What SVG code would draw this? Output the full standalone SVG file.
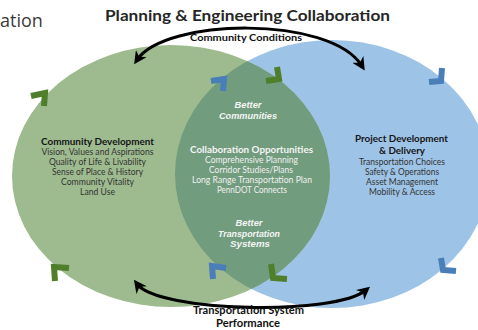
<svg xmlns="http://www.w3.org/2000/svg" width="478" height="330" viewBox="0 0 478 330">
<style>
.cal{font-family:Lato,"Open Sans","Liberation Sans",sans-serif;text-anchor:middle}
.hd{font-weight:bold;fill:#151515;font-size:10px}
.it{fill:#333;font-size:8.6px}
.wh{fill:#f5f5f5}
.bi{font-family:"Liberation Sans",Arial,sans-serif;font-weight:bold;font-style:italic;font-size:9px;fill:#f5f5f5;text-anchor:middle}
.chg{fill:none;stroke:#4f7f2b;stroke-width:6;stroke-linejoin:miter}
.chb{fill:none;stroke:#4a7eb9;stroke-width:6;stroke-linejoin:miter}
.arc{fill:none;stroke:#000;stroke-width:3}
</style>
<defs>
<clipPath id="blueClip"><ellipse cx="332" cy="174" rx="157" ry="134"/></clipPath>
<marker id="ah" viewBox="0 0 10 10" refX="6" refY="5" markerUnits="userSpaceOnUse" markerWidth="13" markerHeight="13" orient="auto-start-reverse">
<path d="M0,0 L10,5 L0,10 L3,5 z" fill="#000"/>
</marker>
</defs>
<rect width="478" height="330" fill="#fff"/>
<text x="0" y="27" font-family="'Open Sans','Liberation Sans',sans-serif" font-size="18" fill="#3a3a3a">ation</text>
<g id="title"><text class="cal" x="247.5" y="21" font-size="15" font-weight="bold" fill="#262626" textLength="285" lengthAdjust="spacingAndGlyphs">Planning &amp; Engineering Collaboration</text></g>
<g id="blue-circle"><ellipse cx="332" cy="174" rx="157" ry="134" fill="#9dc3e6"/></g>
<g id="green-circle"><ellipse cx="171" cy="176" rx="159" ry="131" fill="#9ebb8f"/></g>
<g id="overlap"><ellipse cx="171" cy="176" rx="159" ry="131" fill="#719c7e" clip-path="url(#blueClip)"/></g>
<g id="chevrons">
<polyline class="chg" points="31,96 45,93 44,106"/>
<polyline class="chb" points="211,81 224,79 223,91"/>
<polyline class="chg" points="277,67 279,79 266,81"/>
<polyline class="chb" points="442,68 441,81 429,82"/>
<polyline class="chg" points="69,268 54,267 55,281"/>
<polyline class="chb" points="226,268 212,266 213,279"/>
<polyline class="chg" points="271,264 273,278 287,279"/>
<polyline class="chb" points="441,258 443,270 456,271"/>
</g>
<g id="connectors">
<path class="arc" d="M137,60 C165,18 330,15 362,66" marker-start="url(#ah)" marker-end="url(#ah)"/>
<path class="arc" d="M137,284 C158,312 335,316 366,290" marker-start="url(#ah)" marker-end="url(#ah)"/>
</g>
<g id="community-conditions"><text class="cal" x="246" y="41" font-size="10" font-weight="bold" fill="#111" textLength="112" lengthAdjust="spacingAndGlyphs">Community Conditions</text></g>
<g id="transportation-performance">
<text class="cal" x="248.5" y="314" font-size="10.5" font-weight="bold" fill="#111" textLength="111" lengthAdjust="spacingAndGlyphs">Transportation System</text>
<text class="cal" x="248" y="327" font-size="10.5" font-weight="bold" fill="#111" textLength="64" lengthAdjust="spacingAndGlyphs">Performance</text>
</g>
<g id="community-development">
<text class="cal hd" x="97.5" y="145" textLength="113" lengthAdjust="spacingAndGlyphs">Community Development</text>
<text class="cal it" x="97.5" y="155" textLength="112" lengthAdjust="spacingAndGlyphs">Vision, Values and Aspirations</text>
<text class="cal it" x="97.5" y="165" textLength="97" lengthAdjust="spacingAndGlyphs">Quality of Life &amp; Livability</text>
<text class="cal it" x="97.5" y="175" textLength="91" lengthAdjust="spacingAndGlyphs">Sense of Place &amp; History</text>
<text class="cal it" x="97.5" y="185" textLength="73" lengthAdjust="spacingAndGlyphs">Community Vitality</text>
<text class="cal it" x="97.5" y="195" textLength="35" lengthAdjust="spacingAndGlyphs">Land Use</text>
</g>
<g id="better-communities">
<text class="bi" x="248" y="108" textLength="27" lengthAdjust="spacingAndGlyphs">Better</text>
<text class="bi" x="248" y="119" textLength="58" lengthAdjust="spacingAndGlyphs">Communities</text>
</g>
<g id="collaboration-opportunities">
<text class="cal hd" x="251.5" y="153" style="fill:#f5f5f5" textLength="123" lengthAdjust="spacingAndGlyphs">Collaboration Opportunities</text>
<text class="cal it wh" x="251.5" y="163" style="fill:#f0f0f0" textLength="93" lengthAdjust="spacingAndGlyphs">Comprehensive Planning</text>
<text class="cal it wh" x="251" y="173" style="fill:#f0f0f0" textLength="84" lengthAdjust="spacingAndGlyphs">Corridor Studies/Plans</text>
<text class="cal it wh" x="252" y="183" style="fill:#f0f0f0" textLength="120" lengthAdjust="spacingAndGlyphs">Long Range Transportation Plan</text>
<text class="cal it wh" x="252" y="193" style="fill:#f0f0f0" textLength="70" lengthAdjust="spacingAndGlyphs">PennDOT Connects</text>
</g>
<g id="better-transportation">
<text class="bi" x="249" y="226" textLength="27" lengthAdjust="spacingAndGlyphs">Better</text>
<text class="bi" x="249" y="237" textLength="62" lengthAdjust="spacingAndGlyphs">Transportation</text>
<text class="bi" x="250" y="247" textLength="40" lengthAdjust="spacingAndGlyphs">Systems</text>
</g>
<g id="project-development">
<text class="cal hd" x="401.5" y="142" textLength="93" lengthAdjust="spacingAndGlyphs">Project Development</text>
<text class="cal hd" x="402" y="154" textLength="46" lengthAdjust="spacingAndGlyphs">&amp; Delivery</text>
<text class="cal it" x="402" y="165" textLength="86" lengthAdjust="spacingAndGlyphs">Transportation Choices</text>
<text class="cal it" x="402" y="175" textLength="74" lengthAdjust="spacingAndGlyphs">Safety &amp; Operations</text>
<text class="cal it" x="402" y="185" textLength="72" lengthAdjust="spacingAndGlyphs">Asset Management</text>
<text class="cal it" x="402" y="195" textLength="66" lengthAdjust="spacingAndGlyphs">Mobility &amp; Access</text>
</g>
</svg>
